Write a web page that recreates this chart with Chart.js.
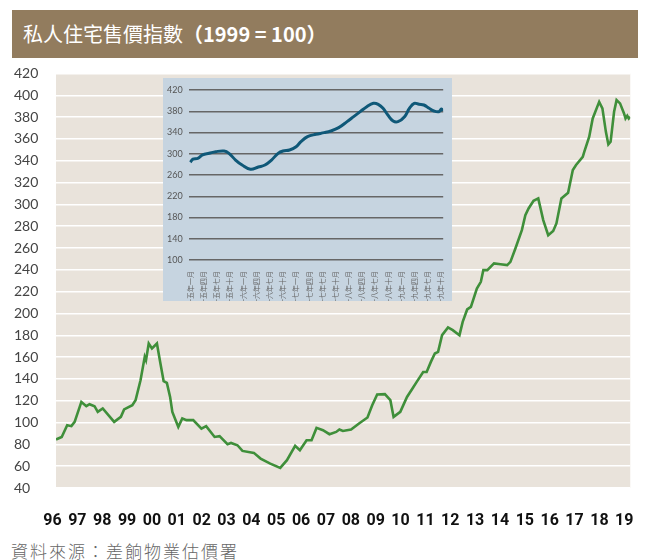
<!DOCTYPE html>
<html>
<head>
<meta charset="utf-8">
<script src="https://cdn.jsdelivr.net/npm/chart.js@4.4.0/dist/chart.umd.min.js"></script>
<style>
  body { margin: 0; background: #fff; width: 652px; height: 560px; position: relative; overflow: hidden; }
  #title {
    position: absolute; left: 12px; top: 10px; width: 615px; height: 48px;
    background: #927c5e; color: #fff; padding-left: 11px;
    font: 400 20px "Noto Sans CJK TC", sans-serif; line-height: 48px;
  }
  #title b { font-weight: 700; }
  #main { position: absolute; left: 0; top: 60px; }
  #inset { position: absolute; left: 163px; top: 78px; background: #c6d4e0; }
  #source {
    position: absolute; left: 11px; top: 540px; color: #666;
    font: 300 17px "Noto Sans CJK TC", sans-serif; letter-spacing: 2px; line-height: 21px;
  }
</style>
</head>
<body>
<div id="title">私人住宅售價指數<b>（1999 = 100）</b></div>
<canvas id="main" width="652" height="470"></canvas>
<canvas id="inset" width="289" height="223"></canvas>
<div id="source">資料來源：差餉物業估價署</div>
<script>
// 主圖：時間（以年計）和指數
const mainTime = [
  1996.00, 1996.23, 1996.45, 1996.62, 1996.75, 1997.02, 1997.22, 1997.35, 1997.55, 1997.68,
  1997.88, 1998.34, 1998.61, 1998.74, 1999.07, 1999.20, 1999.40, 1999.57, 1999.62, 1999.73,
  1999.86, 2000.06, 2000.19, 2000.33, 2000.46, 2000.59, 2000.68, 2000.92, 2001.08, 2001.25,
  2001.52, 2001.85, 2002.04, 2002.38, 2002.58, 2002.90, 2003.04, 2003.30, 2003.50, 2003.96,
  2004.23, 2004.62, 2005.02, 2005.29, 2005.62, 2005.81, 2006.08, 2006.28, 2006.48, 2006.74,
  2007.00, 2007.27, 2007.40, 2007.54, 2007.87, 2008.19, 2008.53, 2008.72, 2008.92, 2009.23,
  2009.45, 2009.58, 2009.85, 2010.12, 2010.34, 2010.51, 2010.77, 2010.91, 2011.08, 2011.24,
  2011.37, 2011.53, 2011.77, 2011.96, 2012.23, 2012.36, 2012.54, 2012.69, 2012.93, 2013.09,
  2013.19, 2013.35, 2013.62, 2013.88, 2014.15, 2014.28, 2014.48, 2014.74, 2014.88, 2015.01,
  2015.21, 2015.40, 2015.60, 2015.80, 2016.00, 2016.13, 2016.33, 2016.60, 2016.79, 2016.92,
  2017.19, 2017.25, 2017.45, 2017.59, 2017.85, 2017.98, 2018.12, 2018.22, 2018.31, 2018.45,
  2018.55, 2018.69, 2018.85, 2018.91, 2018.98, 2019.04, 2019.10
]
const mainIndex = [
  84.5, 86.8, 97.6, 96.7, 100.6, 118.9, 115, 116.8, 115, 109.8,
  112.9, 100.6, 105.2, 112, 115.9, 120.5, 138.8, 160.2, 157.2, 172.5,
  167.9, 172.5, 155.6, 137.9, 136.4, 123.5, 109.8, 96, 103.7, 102.2,
  102.2, 94.5, 96.7, 86.8, 87.5, 80.2, 81.3, 79.2, 74, 72.2,
  67, 62.4, 58.4, 65.5, 78.6, 74.6, 83.8, 83.8, 95.1, 93,
  89.3, 91.4, 93.6, 92.3, 93.6, 99.1, 104.6, 115.9, 125.7, 126,
  120.5, 105.2, 109.8, 123.5, 131.2, 137.3, 146.4, 146.4, 155.6, 163.3,
  164.8, 180.1, 187.2, 184.7, 180.1, 192.3, 203.7, 206.1, 222.9, 229,
  239.7, 239.7, 245.9, 245.2, 244.3, 247.3, 259.6, 276.4, 290.1, 296.3,
  303.3, 305.5, 285.6, 271.8, 275.7, 282.5, 305.5, 310.6, 331.5, 336.1,
  343.6, 348.2, 362, 378.8, 394, 388, 366.5, 355, 357.4, 384.9,
  395.6, 392.6, 383.4, 378.8, 381.2, 378.8, 380.3
]
const yearTicks = [1996, 1997, 1998, 1999, 2000, 2001, 2002, 2003, 2004, 2005, 2006, 2007,
  2008, 2009, 2010, 2011, 2012, 2013, 2014, 2015, 2016, 2017, 2018, 2019]
const yearLabels = ['96','97','98','99','00','01','02','03','04','05','06','07',
  '08','09','10','11','12','13','14','15','16','17','18','19']

// 小圖：由一五年一月起計的月份和指數
const insetMonth = [0, 0.6, 1.7, 2.8, 4.3, 5.8, 7.7, 8.8, 10.3, 11.8, 13.7, 15.5, 17, 18.5, 20,
  21.1, 22.6, 24.1, 25.2, 26.7, 28.6, 30.5, 32, 33.8, 35.7, 37.2, 38.7, 40.2, 41.7, 42.8,
  43.9, 45, 46.2, 47.3, 48.8, 49.9, 51, 52.1, 53.2, 54.4, 55.5, 56.6, 57.2, 57.5]
const insetIndex = [284, 290, 291.4, 297.7, 300.8, 303.9, 305.2, 300.8, 288.2, 278.8, 270.7, 275,
  278.8, 288.2, 300.8, 305.2, 307, 313.3, 322.7, 332.2, 336.6, 339.7, 342.8, 349.1, 360.4,
  369.8, 379.2, 388.6, 394.9, 393, 385.5, 372.9, 361.6, 360.4, 369.8, 385.5, 394.9, 393,
  391.8, 385.5, 380.5, 379.2, 384.2, 380.5]
const insetTicks = [0, 3, 6, 9, 12, 15, 18, 21, 24, 27, 30, 33, 36, 39, 42, 45, 48, 51, 54, 57]
const insetLabels = ['一五年一月','一五年四月','一五年七月','一五年十月','一六年一月','一六年四月',
  '一六年七月','一六年十月','一七年一月','一七年四月','一七年七月','一七年十月','一八年一月',
  '一八年四月','一八年七月','一八年十月','一九年一月','一九年四月','一九年七月','一九年十月']

// 畫圖表範圍的底色
const bgFill = {
  id: 'bgFill',
  beforeDraw(chart, args, opts) {
    const a = chart.chartArea
    chart.ctx.save()
    chart.ctx.fillStyle = opts.color
    chart.ctx.fillRect(a.left, a.top, a.right - a.left, a.bottom - a.top)
    chart.ctx.restore()
  }
}

new Chart(document.getElementById('main'), {
  type: 'line',
  data: {
    datasets: [{
      data: mainTime.map((t, i) => ({ x: t, y: mainIndex[i] })),
      borderColor: '#3f8f3a',
      borderWidth: 2.6,
      pointRadius: 0,
      tension: 0
    }]
  },
  options: {
    responsive: false,
    animation: false,
    devicePixelRatio: 1,
    layout: { padding: { left: 14, right: 14, top: 13.5, bottom: 0 } },
    plugins: { legend: { display: false }, tooltip: { enabled: false }, bgFill: { color: '#e9e3db' } },
    scales: {
      x: {
        type: 'linear', min: 1996, max: 2019.1,
        afterBuildTicks: axis => { axis.ticks = yearTicks.map(v => ({ value: v })) },
        afterFit: axis => { axis.height = 42 },
        grid: { display: false },
        border: { display: false },
        ticks: {
          autoSkip: false, maxRotation: 0, padding: 15, labelOffset: -3.5,
          color: '#111', font: { family: 'Roboto', size: 16, weight: 'bold' },
          callback: v => yearLabels[yearTicks.indexOf(v)]
        }
      },
      y: {
        min: 40, max: 420,
        afterFit: axis => { axis.width = 42 },
        grid: { color: '#ffffff', lineWidth: 1.5, drawTicks: false },
        border: { display: false },
        ticks: { stepSize: 20, crossAlign: 'far', padding: 0, color: '#444', font: { family: 'Lato', size: 14 } }
      }
    }
  },
  plugins: [bgFill]
})

new Chart(document.getElementById('inset'), {
  type: 'line',
  data: {
    datasets: [{
      data: insetMonth.map((m, i) => ({ x: m, y: insetIndex[i] })),
      borderColor: '#0f5878',
      borderWidth: 3,
      pointRadius: 0,
      tension: 0.4
    }]
  },
  options: {
    responsive: false,
    animation: false,
    devicePixelRatio: 1,
    layout: { padding: { left: 4, right: 4, top: 12, bottom: 0 } },
    plugins: { legend: { display: false }, tooltip: { enabled: false } },
    scales: {
      x: {
        type: 'linear', min: -0.3, max: 57.6,
        afterBuildTicks: axis => { axis.ticks = insetTicks.map(v => ({ value: v })) },
        afterFit: axis => { axis.height = 41 },
        grid: { display: false },
        border: { display: false },
        ticks: {
          autoSkip: false, minRotation: 90, maxRotation: 90, padding: 3,
          color: '#666', font: { family: 'Noto Sans CJK TC', size: 7 },
          callback: v => insetLabels[insetTicks.indexOf(v)]
        }
      },
      y: {
        min: 100, max: 420,
        afterFit: axis => { axis.width = 22 },
        grid: { color: c => c.index % 2 ? '#2a2a2a' : '#666', lineWidth: 1.5, drawTicks: false },
        border: { display: false },
        ticks: { stepSize: 20, crossAlign: 'far', padding: 0, color: '#555', font: { family: 'Lato', size: 9 } }
      }
    }
  }
})
</script>
</body>
</html>
